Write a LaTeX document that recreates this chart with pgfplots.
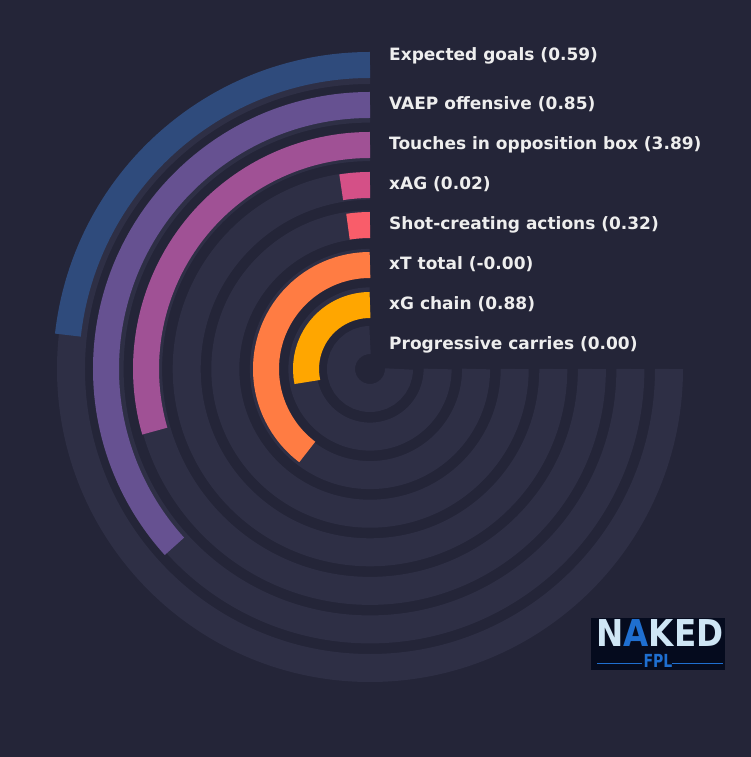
\documentclass[border=0pt]{standalone}
\usepackage{pgfplots}
\pgfplotsset{compat=1.18}
\usepackage{pgfplotstable}
\usepackage{fontspec}
\setmainfont{DejaVu Sans}

\definecolor{bg}{HTML}{242538}
\definecolor{track}{HTML}{2E2F45}
\definecolor{txt}{HTML}{EEEEEE}
\definecolor{bar1}{HTML}{003F5C}
\definecolor{bar2}{HTML}{FFA600}
\definecolor{bar3}{HTML}{FF7C43}
\definecolor{bar4}{HTML}{F95D6A}
\definecolor{bar5}{HTML}{D45087}
\definecolor{bar6}{HTML}{A05195}
\definecolor{bar7}{HTML}{665191}
\definecolor{bar8}{HTML}{2F4B7C}
\definecolor{logobg}{HTML}{050B1E}
\definecolor{logotxt}{HTML}{CFE6F5}
\definecolor{logoblue}{HTML}{1F6FD0}

% bars: ring radius (pt) and sweep (deg, ccw from 12 o'clock, full track = 270)
\pgfplotstableread{
x r   sweep id
0 24  0     1
0 64  101.7 2
0 104 142.9 3
0 144 8.8   4
0 184 9.0   5
0 224 106.1 6
0 264 132.2 7
0 304 83.6  8
}\bars

\pgfplotstableread{
x r     sweep
0 29.0  270
0 67.6  270
0 106.1 270
0 144.7 270
0 183.3 270
0 221.9 270
0 260.4 270
0 299.0 270
}\tracks

\pgfplotsset{
    ring/.style={
        only marks, scatter, mark=*, mark size=0pt,
        mark options={draw=none, fill=none},
        visualization depends on={\thisrow{r}\as\ringr},
        visualization depends on={\thisrow{sweep}\as\ringsweep},
        scatter/@post marker code/.code={},
    },
}

\newcommand\labelfont{\fontsize{17}{20}\selectfont\bfseries}

\begin{document}
\begin{tikzpicture}
    \fill[bg] (0,0) rectangle (751pt,757pt);
    \begin{axis}[
        at={(0,0)}, anchor=south west,
        x=1pt, y=1pt,
        xmin=-370, xmax=381,
        ymin=-388, ymax=369,
        disabledatascaling,
        hide axis,
        clip=false,
    ]

    \addplot[
        ring,
        scatter/@pre marker code/.code={
            \draw[track, line width=28pt]
                (0,0) arc[start angle=90, delta angle=\ringsweep, radius=\ringr pt];
        },
    ] table[x=x, y=r] {\tracks};

    \addplot[
        ring,
        visualization depends on={\thisrow{id}\as\ringid},
        scatter/@pre marker code/.code={
            \pgfmathtruncatemacro\k{\ringid}
            \draw[bar\k, line width=26pt]
                (0,0) arc[start angle=90, delta angle=\ringsweep, radius=\ringr pt];
        },
    ] table[x=x, y=r] {\bars};

    \begin{scope}[every node/.style={anchor=base west, inner sep=0pt, text=txt, font=\labelfont}]
        \node at (axis cs:19,308) {Expected goals (0.59)};
        \node at (axis cs:19,259) {VAEP offensive (0.85)};
        \node at (axis cs:19,219) {Touches in opposition box (3.89)};
        \node at (axis cs:19,179) {xAG (0.02)};
        \node at (axis cs:19,139) {Shot-creating actions (0.32)};
        \node at (axis cs:19,99) {xT total (-0.00)};
        \node at (axis cs:19,59) {xG chain (0.88)};
        \node at (axis cs:19,19) {Progressive carries (0.00)};
    \end{scope}

    % logo
    \fill[logobg] (axis cs:221,-301) rectangle (axis cs:355,-249);
    \node[text=logotxt, font=\fontsize{37}{37}\selectfont\bfseries, inner sep=0pt, xscale=0.88]
        at (axis cs:290,-264) {N\textcolor{logoblue}{A}KED};
    \node[text=logoblue, font=\fontsize{18}{18}\selectfont\bfseries, inner sep=0pt, xscale=0.78]
        at (axis cs:288,-292) {FPL};
    \draw[logoblue, line width=0.8pt] (axis cs:227,-294) -- (axis cs:272,-294);
    \draw[logoblue, line width=0.8pt] (axis cs:302,-294) -- (axis cs:353,-294);
    \end{axis}
\end{tikzpicture}
\end{document}
